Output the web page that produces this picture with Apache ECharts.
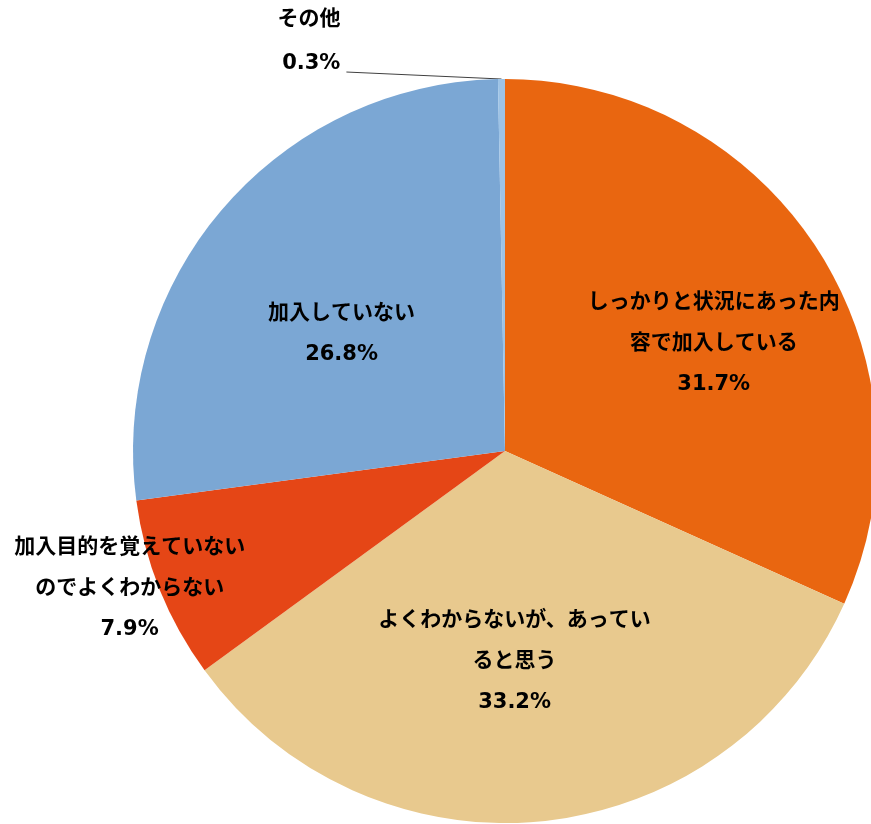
<!DOCTYPE html>
<html>
<head>
<meta charset="UTF-8">
<title>加入状況</title>
<script type="text/javascript" src="https://cdn.jsdelivr.net/npm/echarts@6/dist/echarts.min.js"></script>
<style>
html, body { margin: 0; padding: 0; background: #fff; }
</style>
</head>
<body>
	<div id="pie" style="width:871px; height:824px"></div>
	<script type="text/javascript">
	// 回答項目と割合(%)
	var categories = ['しっかりと状況にあった内容で加入している', 'よくわからないが、あっていると思う', '加入目的を覚えていないのでよくわからない', '加入していない', 'その他'];
	var values = [31.7, 33.2, 7.9, 26.8, 0.3];
	var colors = ['#E96610', '#E8C98E', '#E54616', '#7BA7D4', '#9DC3E6'];
	// ラベルの折り返し幅と位置調整
	var labelWidth = [262, 282, 240, 220, 120];
	var labelShift = [[50, -5], [-10, 23], [-200, 67], [-20, 6], [-16, -27]];

	var myChart = echarts.init(document.getElementById('pie'));

	var option = {
		animation: false,
		series: [{
			type: 'pie',
			center: [505, 451],
			radius: 372,
			startAngle: 90,
			clockwise: true,
			avoidLabelOverlap: false,
			itemStyle: { borderWidth: 0 },
			label: {
				position: 'inside',
				formatter: function (p) { return p.name + '\n' + p.value.toFixed(1) + '%'; },
				color: '#000',
				fontSize: 21,
				fontWeight: 'bold',
				fontFamily: "'DejaVu Sans', 'Noto Sans CJK JP', sans-serif",
				lineHeight: 41,
				align: 'center',
				overflow: 'break'
			},
			labelLine: { show: false },
			labelLayout: function (p) {
				var s = labelShift[p.dataIndex];
				var res = { dx: s[0], dy: s[1] };
				if (p.dataIndex === 4 && p.labelLinePoints) {
					// 引き出し線: ラベル右下から扇形の外周まで一直線
					var r = p.labelRect;
					var edge = p.labelLinePoints[0];
					var end = [r.x + s[0] + r.width + 6, r.y + s[1] + r.height - 14];
					res.labelLinePoints = [edge, edge, end];
				}
				return res;
			},
			data: categories.map(function (name, i) {
				var item = {
					name: name,
					value: values[i],
					itemStyle: { color: colors[i] },
					label: { width: labelWidth[i] }
				};
				if (i === 4) {
					item.label.position = 'outside';
					item.label.lineHeight = 44;
					item.labelLine = { show: true, length: 10, length2: 140, lineStyle: { color: '#404040', width: 1 } };
				}
				return item;
			}),
			emphasis: { disabled: true }
		}]
	};
	myChart.setOption(option);
	</script>
</body>
</html>
